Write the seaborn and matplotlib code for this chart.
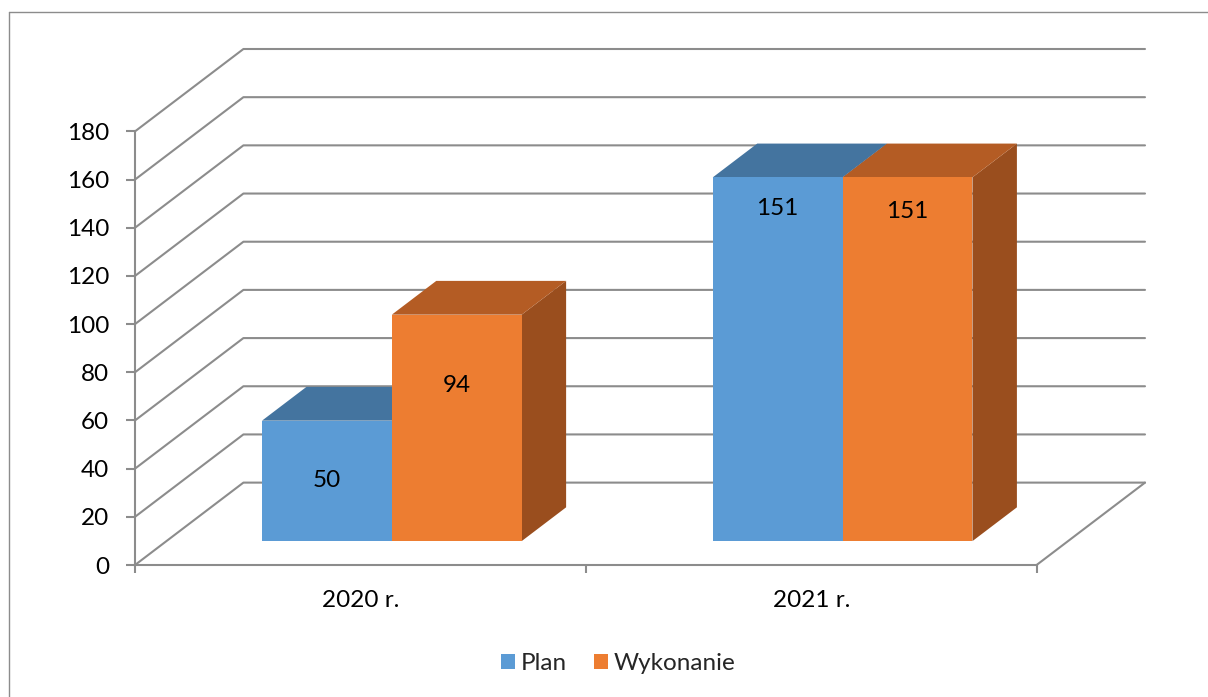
import matplotlib
matplotlib.use("Agg")
import pandas as pd
import seaborn as sns
import matplotlib.pyplot as plt
from matplotlib.patches import Polygon, Patch
from matplotlib.lines import Line2D

# data
years = ["2020 r.", "2021 r."]
series = ["Plan", "Wykonanie"]
plan = [50, 151]
wykonanie = [94, 151]
y_ticks = list(range(0, 181, 20))

# style
front_colors = ["#5B9BD5", "#ED7D31"]
top_colors = ["#44749F", "#B45C24"]
side_colors = ["#3A6690", "#9A4E1E"]
GRID = "#8c8c8c"
FS = 17.5
DX, DY = 0.2405, 34.2   # offset of the back wall (category units, value units)
D0, D1 = 0.29, 0.70     # depth of the bars (front face, back face)

df = pd.DataFrame({
    "year": years * 2,
    "series": [series[0]] * len(years) + [series[1]] * len(years),
    "value": plan + wykonanie,
})

sns.set_theme(style="white")
plt.rcParams["font.family"] = ["Lato", "DejaVu Sans"]

W, H = 1208, 697
fig = plt.figure(figsize=(W / 100, H / 100), dpi=100)
ax = fig.add_axes([135 / W, (H - 565) / H, 1010 / W, 516 / H])

sns.barplot(data=df, x="year", y="value", hue="series", palette=front_colors,
            width=0.576, errorbar=None, saturation=1, legend=False,
            linewidth=0, edgecolor="none", ax=ax)

# back wall / floor grid
x_front, x_end = -0.5, len(years) - 0.5
for v in y_ticks:
    ax.plot([x_front, x_front + DX, x_end + DX], [v, v + DY, v + DY],
            color=GRID, lw=1.5, zorder=1, clip_on=False)
ax.plot([x_end, x_end + DX], [0, DY], color=GRID, lw=1.5, zorder=1, clip_on=False)

# turn flat bars into boxes
bars = []
for s, cont in enumerate(ax.containers):
    for p in cont:
        bars.append((p.get_x(), s, p))
bars.sort(key=lambda b: b[0])

label_pos = [25, 64.7, 138, 137]  # label heights above the bar base
dd = D1 - D0
for i, (x0, s, p) in enumerate(bars):
    w, h = p.get_width(), p.get_height()
    fx, fy = x0 + D0 * DX, D0 * DY
    p.set_x(fx)
    p.set_y(fy)
    p.set_linewidth(0)
    z = 2 + i * 0.1
    side = Polygon([(fx + w, fy), (fx + w + dd * DX, fy + dd * DY),
                    (fx + w + dd * DX, fy + h + dd * DY), (fx + w, fy + h)],
                   closed=True, fc=side_colors[s], ec="none", zorder=z)
    top = Polygon([(fx, fy + h), (fx + w, fy + h),
                   (fx + w + dd * DX, fy + h + dd * DY), (fx + dd * DX, fy + h + dd * DY)],
                  closed=True, fc=top_colors[s], ec="none", zorder=z + 0.01)
    ax.add_patch(side)
    ax.add_patch(top)
    p.set_zorder(z + 0.02)
    ax.text(fx + w / 2, fy + label_pos[i], f"{h:.0f}", ha="center", va="center",
            fontsize=FS, color="black", zorder=z + 0.03)

ax.set_xlim(x_front, x_end + DX)
ax.set_ylim(0, 180 + DY)
ax.set_xlabel("")
ax.set_ylabel("")

for side_name in ["top", "right"]:
    ax.spines[side_name].set_visible(False)
ax.spines["left"].set_bounds(0, 180)
ax.spines["bottom"].set_bounds(x_front, x_end)
for side_name in ["left", "bottom"]:
    ax.spines[side_name].set_color(GRID)
    ax.spines[side_name].set_linewidth(1.5)
    ax.spines[side_name].set_zorder(1.5)

ax.set_yticks(y_ticks)
ax.tick_params(axis="y", left=True, length=6.5, width=1.5, color=GRID, pad=12,
               labelsize=FS, labelcolor="black")
ax.set_xticks(range(len(years)))
ax.set_xticks([x_front + k for k in range(len(years) + 1)], minor=True)
ax.tick_params(axis="x", which="major", length=0, pad=18, labelsize=FS, labelcolor="black")
ax.tick_params(axis="x", which="minor", bottom=True, length=6, width=1.5, color=GRID)

handles = [Patch(fc=c, ec="none", label=s) for c, s in zip(front_colors, series)]
fig.legend(handles=handles, loc="center", bbox_to_anchor=(618 / W, 1 - 664 / H),
           ncol=2, frameon=False, fontsize=FS, handlelength=0.58, handleheight=0.58,
           handletextpad=0.25, columnspacing=1.1)

# chart area border
fig.add_artist(Line2D([9 / W, 1], [1 - 12 / H, 1 - 12 / H], transform=fig.transFigure,
                      color=GRID, lw=1))
fig.add_artist(Line2D([9 / W, 9 / W], [0, 1 - 12 / H], transform=fig.transFigure,
                      color=GRID, lw=1))

fig.savefig("out.png", dpi=100)
